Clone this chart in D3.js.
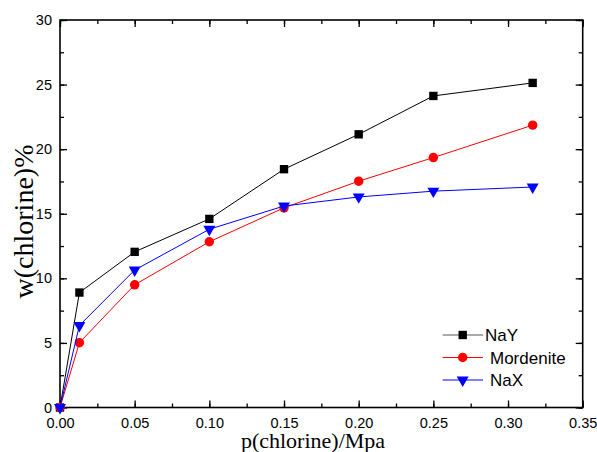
<!DOCTYPE html>
<html><head><meta charset="utf-8">
<script src="https://cdn.jsdelivr.net/npm/d3@7"></script>
<style>body{margin:0;background:#fff}</style>
</head><body>
<svg id="c" width="597" height="452"></svg>
<script>
const pressure = [0, 0.013, 0.05, 0.10, 0.15, 0.20, 0.25, 0.3165];
const nay = [0, 8.9, 12.05, 14.6, 18.45, 21.15, 24.12, 25.13];
const mordenite = [0, 5.02, 9.5, 12.83, 15.46, 17.52, 19.35, 21.86];
const nax = [0, 6.35, 10.64, 13.8, 15.6, 16.3, 16.75, 17.07];
const seriesNames = ["NaY", "Mordenite", "NaX"];
const xTicks = [0, 0.05, 0.10, 0.15, 0.20, 0.25, 0.30, 0.35];
const yTicks = [0, 5, 10, 15, 20, 25, 30];

const svg = d3.select("#c");
const L = 60, R = 582.7, T = 20, B = 407.5;
const x = d3.scaleLinear().domain([0, 0.35]).range([L, R]);
const y = d3.scaleLinear().domain([0, 30]).range([B, T]);
const sans = "'Liberation Sans', Arial, sans-serif";
const serif = "'Liberation Serif', 'Times New Roman', serif";

const xMinor = d3.range(0, 0.3501, 0.025);
const yMinor = d3.range(0, 30.01, 2.5);

function styleAxis(g){
  g.select(".domain").remove();
  g.selectAll("line").attr("stroke","#000").attr("stroke-width",1.3);
  g.selectAll("text").attr("font-family", sans).attr("font-size","14.5px").attr("fill","#000");
}
// bottom
svg.append("g").attr("transform",`translate(0,${B})`)
  .call(d3.axisBottom(x).tickValues(xMinor).tickSize(-4).tickFormat(""))
  .call(styleAxis);
svg.append("g").attr("transform",`translate(0,${B})`)
  .call(d3.axisBottom(x).tickValues(xTicks).tickSize(-7).tickPadding(10.5).tickFormat(d3.format(".2f")))
  .call(styleAxis);
// top
svg.append("g").attr("transform",`translate(0,${T})`)
  .call(d3.axisTop(x).tickValues(xMinor).tickSize(-4).tickFormat(""))
  .call(styleAxis);
svg.append("g").attr("transform",`translate(0,${T})`)
  .call(d3.axisTop(x).tickValues(xTicks).tickSize(-7).tickFormat(""))
  .call(styleAxis);
// left
svg.append("g").attr("transform",`translate(${L},0)`)
  .call(d3.axisLeft(y).tickValues(yMinor).tickSize(-4).tickFormat(""))
  .call(styleAxis);
svg.append("g").attr("transform",`translate(${L},0)`)
  .call(d3.axisLeft(y).tickValues(yTicks).tickSize(-7).tickPadding(8).tickFormat(d3.format("d")))
  .call(styleAxis);
// right
svg.append("g").attr("transform",`translate(${R},0)`)
  .call(d3.axisRight(y).tickValues(yMinor).tickSize(-4).tickFormat(""))
  .call(styleAxis);
svg.append("g").attr("transform",`translate(${R},0)`)
  .call(d3.axisRight(y).tickValues(yTicks).tickSize(-7).tickFormat(""))
  .call(styleAxis);

// frame
svg.append("rect").attr("x",L).attr("y",T).attr("width",R-L).attr("height",B-T)
  .attr("fill","none").attr("stroke","#000").attr("stroke-width",1.6);

const series = [
  {name: seriesNames[0], vals: nay, color: "#000000", sym: d3.symbolSquare, size: 70, rot: 0},
  {name: seriesNames[1], vals: mordenite, color: "#ff0000", sym: d3.symbolCircle, size: 70, rot: 0},
  {name: seriesNames[2], vals: nax, color: "#0000ff", sym: d3.symbolTriangle, size: 62, rot: 180}
];
const line = d3.line().x(d=>x(d[0])).y(d=>y(d[1]));
series.forEach(s=>{
  const pts = pressure.map((p,i)=>[p, s.vals[i]]);
  svg.append("path").datum(pts).attr("d", line).attr("fill","none")
    .attr("stroke", s.color).attr("stroke-width",1);
  svg.append("g").selectAll("path").data(pts).join("path")
    .attr("d", d3.symbol().type(s.sym).size(s.size))
    .attr("transform", d=>`translate(${x(d[0])},${y(d[1])}) rotate(${s.rot})`)
    .attr("fill", s.color);
});

// legend
const lg = svg.append("g");
const legY = [335, 357.5, 380];
const legTextX = [485, 490, 490];
series.forEach((s,i)=>{
  lg.append("line").attr("x1",442.7).attr("x2",483).attr("y1",legY[i]).attr("y2",legY[i])
    .attr("stroke", i===0 ? "#555" : s.color).attr("stroke-width",1);
  lg.append("path").attr("d", d3.symbol().type(s.sym).size(s.size))
    .attr("transform",`translate(462.7,${legY[i]}) rotate(${s.rot})`).attr("fill", s.color);
  lg.append("text").attr("x", legTextX[i]).attr("y", legY[i]).attr("dy","0.36em")
    .attr("font-family", sans).attr("font-size","17px").text(s.name);
});

// axis titles
svg.append("text").attr("x", 313).attr("y", 447.5).attr("text-anchor","middle")
  .attr("font-family", serif).attr("font-size","22px").text("p(chlorine)/Mpa");
const yl = svg.append("text").attr("transform","translate(33,221.5) rotate(-90)")
  .attr("text-anchor","middle").attr("font-family", serif).attr("font-size","28px");
yl.append("tspan").text("w(chlorine)");
yl.append("tspan").text("%");
</script>
</body></html>
